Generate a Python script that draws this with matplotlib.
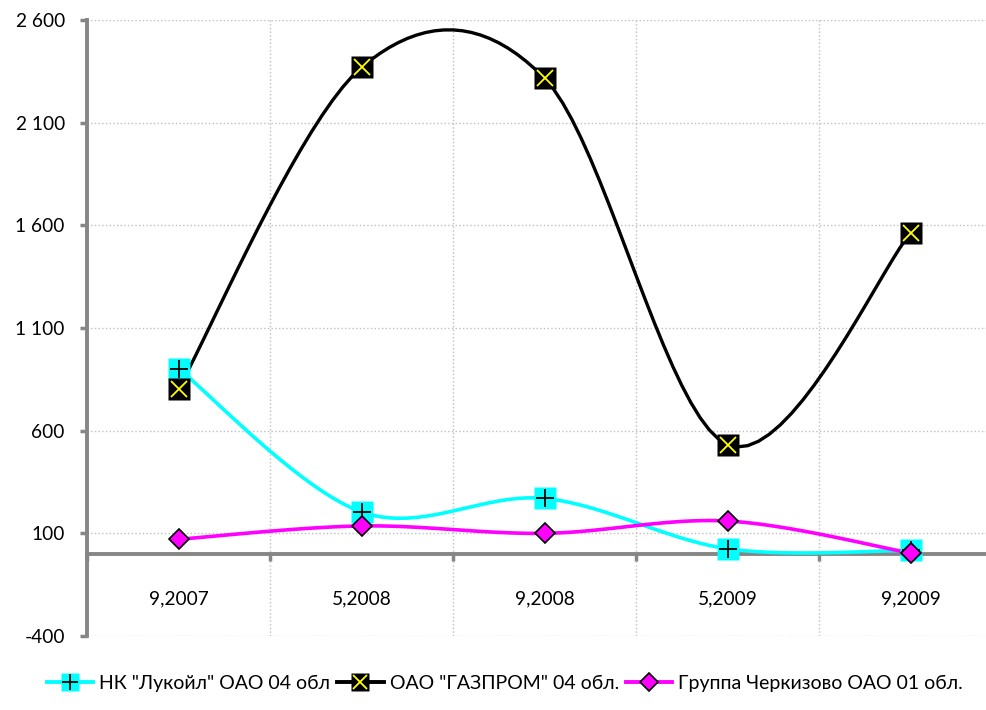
import numpy as np
import matplotlib
matplotlib.use("Agg")
import matplotlib.pyplot as plt
from matplotlib.lines import Line2D
from matplotlib.legend_handler import HandlerTuple
from matplotlib.ticker import FuncFormatter, FixedLocator

plt.rcParams['font.family'] = ['Lato', 'DejaVu Sans']

categories = ["9,2007", "5,2008", "9,2008", "5,2009", "9,2009"]
lukoil = [902, 204, 270, 25, 17]
gazprom = [805, 2369, 2316, 532, 1562]
cherkizovo = [71, 136, 100, 160, 4]
series_names = ['НК "Лукойл" ОАО 04 обл', 'ОАО "ГАЗПРОМ" 04 обл.', 'Группа Черкизово ОАО 01 обл.']
y_ticks = [-400, 100, 600, 1100, 1600, 2100, 2600]


def smooth(y, n=20):
    """Catmull-Rom spline through points (like Excel smoothed lines)."""
    y = np.asarray(y, float)
    x = np.arange(len(y), dtype=float)
    px = np.concatenate([[x[0]], x, [x[-1]]])
    py = np.concatenate([[y[0]], y, [y[-1]]])
    xs, ys = [], []
    for i in range(1, len(px) - 2):
        p0x, p1x, p2x, p3x = px[i - 1], px[i], px[i + 1], px[i + 2]
        p0y, p1y, p2y, p3y = py[i - 1], py[i], py[i + 1], py[i + 2]
        t = np.linspace(0, 1, n, endpoint=(i == len(px) - 3))
        m1x, m2x = (p2x - p0x) / 2, (p3x - p1x) / 2
        m1y, m2y = (p2y - p0y) / 2, (p3y - p1y) / 2
        h00 = 2 * t**3 - 3 * t**2 + 1
        h10 = t**3 - 2 * t**2 + t
        h01 = -2 * t**3 + 3 * t**2
        h11 = t**3 - t**2
        xs.append(h00 * p1x + h10 * m1x + h01 * p2x + h11 * m2x)
        ys.append(h00 * p1y + h10 * m1y + h01 * p2y + h11 * m2y)
    return np.concatenate(xs), np.concatenate(ys)


fig = plt.figure(figsize=(9.86, 7.10), dpi=100)
ax = fig.add_axes([87 / 986, 1 - 636 / 710, (1002 - 87) / 986, (636 - 20) / 710])

x = np.arange(len(categories))
grey = '#868686'

# Lukoil
sx, sy = smooth(lukoil)
ax.plot(sx, sy, color='#00FFFF', lw=2.6, zorder=3, solid_capstyle='round')
ax.plot(x, lukoil, ls='none', marker='s', ms=15.5, mfc='#00FFFF', mec='none', zorder=4)
ax.plot(x, lukoil, ls='none', marker='+', ms=13, mec='black', mew=1.3, zorder=5)

# Gazprom
sx, sy = smooth(gazprom)
ax.plot(sx, sy, color='black', lw=2.4, zorder=3, solid_capstyle='round')
ax.plot(x, gazprom, ls='none', marker='s', ms=15.5, mfc='black', mec='none', zorder=4)
ax.plot(x, gazprom, ls='none', marker='x', ms=12, mec='#FFFF00', mew=1.3, zorder=5)

# Cherkizovo
sx, sy = smooth(cherkizovo)
ax.plot(sx, sy, color='#FF00FF', lw=2.6, zorder=3, solid_capstyle='round')
ax.plot(x, cherkizovo, ls='none', marker='D', ms=10, mfc='#FF00FF', mec='black', mew=1.2, zorder=6)

ax.set_xlim(-0.5, len(categories) - 0.5)
ax.set_ylim(-400, 2600)

# y axis
ax.yaxis.set_major_locator(FixedLocator(y_ticks))
ax.yaxis.set_major_formatter(FuncFormatter(lambda v, p: f"{v:,.0f}".replace(",", " ")))
ax.tick_params(axis='y', which='major', direction='out', length=5, width=2.5, color=grey,
               labelsize=13.8, pad=11)

# x axis at zero
ax.spines['bottom'].set_position(('data', 0))
ax.spines['bottom'].set_color(grey)
ax.spines['bottom'].set_linewidth(2.8)
ax.spines['left'].set_color(grey)
ax.spines['left'].set_linewidth(2.8)
ax.spines['top'].set_visible(False)
ax.spines['right'].set_visible(False)

ax.set_xticks(x)
ax.set_xticklabels(categories)
ax.set_xticks(np.arange(len(categories) + 1) - 0.5, minor=True)
ax.tick_params(axis='x', which='major', length=0, labelsize=13.8, pad=26)
ax.tick_params(axis='x', which='minor', direction='out', length=5, width=2.5, color=grey)

ax.grid(axis='y', which='major', color='#BFBFBF', ls=':', lw=1)
ax.grid(axis='x', which='minor', color='#BFBFBF', ls=':', lw=1)
ax.set_axisbelow(True)

# legend
h1 = (Line2D([], [], color='#00FFFF', lw=2.8, marker='s', ms=13, mfc='#00FFFF', mec='none'),
      Line2D([], [], ls='none', marker='+', ms=11, mec='black', mew=1.3))
h2 = (Line2D([], [], color='black', lw=2.8, marker='s', ms=13, mfc='black', mec='none'),
      Line2D([], [], ls='none', marker='x', ms=10, mec='#FFFF00', mew=1.3))
h3 = (Line2D([], [], color='#FF00FF', lw=2.8, marker='D', ms=9, mfc='#FF00FF', mec='black', mew=1.2),)
fig.legend([h1, h2, h3], series_names, handler_map={tuple: HandlerTuple(ndivide=1, pad=0)},
           loc='center', bbox_to_anchor=(0.512, 1 - 683 / 710), ncol=3, frameon=False,
           prop={'family': ['Liberation Sans Narrow', 'Lato'], 'size': 14},
           handlelength=2.4, handletextpad=0.3, columnspacing=0.35)

fig.savefig('out.png', dpi=100)
